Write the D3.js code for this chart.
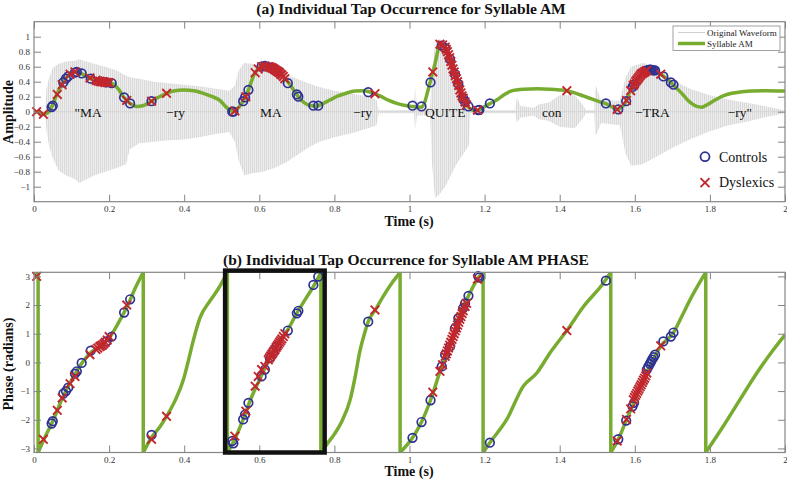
<!DOCTYPE html>
<html><head><meta charset="utf-8">
<script src="https://cdn.jsdelivr.net/npm/d3@7"></script>
<style>
body{margin:0;background:#fff;}
svg{display:block;}
text{font-family:"Liberation Serif","Times New Roman",serif;}
</style>
</head><body>
<svg id="chart" width="787" height="481"></svg>
<script>
// ---------- DATA ----------
const timeTicks = [0, 0.2, 0.4, 0.6, 0.8, 1, 1.2, 1.4, 1.6, 1.8, 2];
const ampTicks = [-1, -0.8, -0.6, -0.4, -0.2, 0, 0.2, 0.4, 0.6, 0.8, 1];
const phaseTicks = [-3, -2, -1, 0, 1, 2, 3];

const syllableLabels = ['"MA', '\u2212ry', 'MA', '\u2212ry', 'QUITE', 'con', '\u2212TRA', '\u2212ry"'];
const syllableTimes  = [0.144, 0.377, 0.631, 0.875, 1.095, 1.379, 1.647, 1.880];

// Syllable AM envelope [time, amplitude]
const amCurve = [
 [0,0],[0.012,0.0],[0.025,-0.035],[0.04,0.0],[0.047,0.06],[0.06,0.22],[0.074,0.36],[0.087,0.46],[0.1,0.51],
 [0.112,0.53],[0.125,0.51],[0.14,0.47],[0.155,0.43],[0.176,0.40],[0.2,0.385],[0.211,0.37],[0.225,0.3],[0.238,0.2],
 [0.256,0.11],[0.273,0.07],[0.29,0.08],[0.309,0.13],[0.33,0.19],[0.353,0.245],[0.375,0.28],[0.398,0.29],[0.425,0.28],
 [0.451,0.245],[0.475,0.2],[0.495,0.15],[0.51,0.07],[0.522,0.02],[0.531,0.0],[0.542,0.04],[0.553,0.11],[0.562,0.19],
 [0.571,0.29],[0.584,0.47],[0.595,0.56],[0.61,0.61],[0.624,0.6],[0.64,0.56],[0.655,0.51],[0.668,0.44],[0.682,0.36],
 [0.693,0.28],[0.704,0.2],[0.715,0.14],[0.726,0.1],[0.74,0.08],[0.753,0.076],[0.77,0.11],[0.788,0.156],[0.81,0.21],
 [0.833,0.25],[0.855,0.275],[0.877,0.28],[0.9,0.255],[0.921,0.21],[0.945,0.15],[0.966,0.11],[0.985,0.085],[1.006,0.07],
 [1.032,0.06],[1.04,0.12],[1.05,0.3],[1.058,0.45],[1.068,0.64],[1.075,0.8],[1.081,0.9],[1.088,0.89],[1.099,0.82],
 [1.108,0.7],[1.117,0.56],[1.126,0.42],[1.134,0.29],[1.143,0.18],[1.152,0.09],[1.163,0.035],[1.174,0.013],[1.185,0.025],
 [1.197,0.06],[1.215,0.11],[1.232,0.156],[1.25,0.22],[1.268,0.27],[1.285,0.29],[1.303,0.30],[1.34,0.305],[1.374,0.30],
 [1.4,0.29],[1.419,0.28],[1.44,0.25],[1.463,0.21],[1.485,0.17],[1.507,0.13],[1.521,0.11],[1.537,0.07],[1.552,0.03],
 [1.565,0.06],[1.574,0.11],[1.587,0.27],[1.597,0.36],[1.605,0.42],[1.617,0.5],[1.627,0.54],[1.64,0.56],[1.652,0.55],
 [1.662,0.52],[1.672,0.49],[1.685,0.44],[1.698,0.38],[1.712,0.31],[1.725,0.245],[1.738,0.17],[1.751,0.11],[1.765,0.07],
 [1.778,0.06],[1.795,0.1],[1.814,0.156],[1.835,0.21],[1.858,0.245],[1.885,0.265],[1.911,0.276],[1.95,0.278],[2.0,0.276]
];

// Original waveform envelope [time, upper, lower]
const waveEnvelope = [
 [0.000,0.01,-0.01],[0.030,0.02,-0.02],[0.033,0.30,-0.25],[0.040,0.45,-0.45],[0.050,0.58,-0.62],[0.065,0.64,-0.78],
 [0.085,0.67,-0.85],[0.110,0.68,-0.90],[0.120,0.70,-0.95],[0.140,0.67,-0.90],[0.160,0.64,-0.85],[0.190,0.60,-0.80],
 [0.220,0.55,-0.75],[0.245,0.48,-0.70],[0.255,0.46,-0.50],[0.280,0.44,-0.42],[0.320,0.40,-0.40],[0.360,0.38,-0.38],
 [0.400,0.36,-0.37],[0.440,0.34,-0.34],[0.480,0.31,-0.30],[0.520,0.28,-0.27],[0.535,0.35,-0.40],[0.545,0.55,-0.65],
 [0.560,0.65,-0.85],[0.580,0.64,-0.82],[0.610,0.60,-0.80],[0.640,0.56,-0.75],[0.670,0.50,-0.68],[0.700,0.44,-0.58],
 [0.730,0.38,-0.48],[0.760,0.33,-0.40],[0.800,0.28,-0.34],[0.850,0.24,-0.28],[0.890,0.20,-0.22],[0.912,0.16,-0.18],
 [0.918,0.02,-0.02],[1.012,0.02,-0.02],[1.015,0.35,-0.25],[1.020,0.05,-0.05],[1.055,0.05,-0.05],[1.060,0.55,-0.70],
 [1.068,0.90,-1.15],[1.080,0.98,-1.10],[1.095,0.85,-1.00],[1.110,0.65,-0.85],[1.125,0.45,-0.70],[1.145,0.28,-0.55],
 [1.158,0.18,-0.45],[1.162,0.02,-0.02],[1.282,0.02,-0.02],[1.286,0.20,-0.15],[1.295,0.08,-0.08],[1.330,0.05,-0.05],
 [1.345,0.10,-0.10],[1.370,0.12,-0.12],[1.400,0.22,-0.20],[1.440,0.22,-0.22],[1.460,0.10,-0.10],[1.470,0.02,-0.02],
 [1.492,0.02,-0.02],[1.495,0.36,-0.33],[1.510,0.15,-0.15],[1.560,0.15,-0.18],[1.575,0.45,-0.55],[1.590,0.60,-0.72],
 [1.620,0.65,-0.70],[1.650,0.62,-0.62],[1.700,0.42,-0.48],[1.750,0.30,-0.36],[1.800,0.22,-0.26],[1.850,0.16,-0.18],
 [1.900,0.12,-0.13],[1.950,0.07,-0.07],[1.990,0.03,-0.03],[2.000,0.01,-0.01]
];

// Syllable AM phase [time, radians]; repeated time = wrap from +pi to -pi
const phaseCurve = [
 [0,2.95],[0.011,3.1416],[0.011,-3.1416],[0.025,-2.72],[0.05,-2.05],[0.075,-1.26],[0.1,-0.62],[0.125,-0.07],[0.15,0.33],
 [0.175,0.55],[0.2,0.85],[0.215,1.15],[0.23,1.5],[0.25,2.0],[0.27,2.6],[0.291,3.1416],
 [0.291,-3.1416],[0.313,-2.62],[0.335,-2.25],[0.353,-1.88],[0.375,-1.35],[0.398,-0.6],[0.41,0.0],[0.424,0.75],
 [0.442,1.55],[0.469,2.15],[0.49,2.55],[0.515,3.1416],
 [0.515,-3.1416],[0.531,-2.78],[0.557,-1.99],[0.575,-1.35],[0.6,-0.62],[0.625,0.08],[0.65,0.7],[0.675,1.12],[0.7,1.72],
 [0.725,2.25],[0.75,2.78],[0.764,3.1416],
 [0.764,-3.1416],[0.78,-2.85],[0.8,-2.5],[0.82,-2.05],[0.842,-1.3],[0.856,-0.45],[0.868,0.4],[0.88,1.0],[0.89,1.42],
 [0.91,1.85],[0.93,2.3],[0.955,2.8],[0.975,3.1416],
 [0.975,-3.1416],[1.008,-2.63],[1.032,-2.08],[1.056,-1.32],[1.086,-0.14],[1.108,0.56],[1.13,1.54],[1.157,2.32],
 [1.185,2.98],[1.196,3.1416],
 [1.196,-3.1416],[1.214,-2.8],[1.259,-1.99],[1.303,-0.83],[1.339,-0.37],[1.374,0.33],[1.419,1.11],[1.463,1.94],
 [1.516,2.76],[1.536,3.1416],
 [1.536,-3.1416],[1.556,-2.68],[1.577,-2.03],[1.596,-1.45],[1.62,-0.7],[1.645,0.0],[1.67,0.58],[1.703,1.04],
 [1.725,1.6],[1.747,2.18],[1.782,2.99],[1.789,3.1416],
 [1.789,-3.1416],[1.836,-2.22],[1.88,-1.3],[1.925,-0.37],[1.969,0.44],[2.0,0.96]
];

// Taps [time, AM amplitude, phase]
const controlsTaps = [
 [0.047,0.06,-2.13],[0.05,0.08,-2.05],[0.078,0.39,-1.09],[0.085,0.44,-1.0],[0.091,0.47,-0.88],[0.109,0.52,-0.39],
 [0.114,0.53,-0.31],[0.127,0.51,-0.02],[0.151,0.44,0.41],[0.193,0.39,0.73],[0.207,0.38,0.9],[0.24,0.19,1.74],
 [0.256,0.11,2.2],[0.313,0.14,-2.53],
 [0.528,0.0,-2.74],[0.531,0.0,-2.82],[0.557,0.14,-1.99],[0.562,0.19,-1.82],[0.571,0.29,-1.41],[0.606,0.6,-0.49],
 [0.615,0.61,-0.25],[0.628,0.59,0.15],[0.637,0.57,0.38],[0.646,0.54,0.56],[0.676,0.38,1.11],[0.7,0.23,1.71],
 [0.704,0.2,1.8],[0.744,0.08,2.7],[0.757,0.08,2.99],
 [0.89,0.26,1.42],
 [1.008,0.08,-2.63],[1.032,0.07,-2.08],[1.056,0.39,-1.32],[1.086,0.88,-0.14],[1.095,0.85,0.27],[1.108,0.7,0.56],
 [1.121,0.5,1.19],[1.13,0.37,1.54],[1.143,0.18,1.89],[1.148,0.13,2.06],[1.157,0.07,2.32],[1.183,0.02,3.01],
 [1.186,0.025,2.96],[1.214,0.11,-2.8],
 [1.523,0.11,2.85],
 [1.556,0.03,-2.68],[1.577,0.14,-2.03],[1.594,0.33,-1.53],[1.598,0.36,-1.41],[1.632,0.55,-0.25],[1.636,0.555,-0.15],
 [1.64,0.56,-0.05],[1.643,0.56,0.02],[1.646,0.555,0.1],[1.65,0.55,0.18],[1.654,0.55,0.27],[1.676,0.47,0.73],
 [1.696,0.39,0.9],[1.703,0.36,1.04]
];
const dyslexicsTaps = [
 [0.007,0.0,3.0],[0.025,-0.035,-2.68],[0.062,0.23,-1.67],[0.075,0.36,-1.24],[0.096,0.5,-0.74],[0.109,0.53,-0.49],
 [0.149,0.45,0.27],[0.165,0.42,0.45],[0.17,0.41,0.5],[0.175,0.405,0.55],[0.178,0.4,0.58],[0.182,0.4,0.6],
 [0.186,0.395,0.65],[0.19,0.39,0.7],[0.195,0.39,0.78],[0.2,0.385,0.9],[0.247,0.15,2.0],[0.313,0.14,-2.68],
 [0.353,0.245,-1.88],
 [0.535,0.01,-2.57],[0.564,0.2,-1.7],[0.589,0.52,-0.83],[0.597,0.57,-0.49],[0.606,0.6,-0.25],[0.615,0.61,-0.14],
 [0.624,0.6,0.09],[0.627,0.6,0.16],[0.63,0.59,0.22],[0.633,0.585,0.28],[0.636,0.58,0.33],[0.639,0.57,0.4],
 [0.642,0.56,0.45],[0.645,0.55,0.52],[0.648,0.54,0.58],[0.651,0.53,0.64],[0.654,0.52,0.7],[0.657,0.5,0.76],
 [0.66,0.49,0.82],[0.664,0.47,0.9],[0.668,0.44,1.0],
 [0.908,0.24,1.83],
 [1.062,0.53,-1.04],[1.081,0.9,-0.31],[1.088,0.89,-0.08],[1.095,0.86,0.21],[1.098,0.83,0.3],[1.101,0.8,0.4],
 [1.104,0.76,0.5],[1.107,0.72,0.6],[1.11,0.67,0.7],[1.113,0.62,0.8],[1.116,0.57,0.9],[1.119,0.53,1.0],
 [1.122,0.48,1.1],[1.125,0.44,1.2],[1.128,0.4,1.3],[1.131,0.35,1.4],[1.134,0.29,1.5],[1.137,0.25,1.6],
 [1.14,0.21,1.7],[1.143,0.18,1.8],[1.148,0.13,1.95],[1.152,0.09,2.06],[1.181,0.02,2.9],
 [1.419,0.28,1.11],
 [1.553,0.03,-2.74],[1.578,0.15,-1.99],[1.589,0.28,-1.62],[1.596,0.35,-1.3],[1.599,0.37,-1.22],[1.602,0.4,-1.15],
 [1.605,0.42,-1.08],[1.608,0.44,-1.0],[1.611,0.46,-0.93],[1.614,0.48,-0.85],[1.617,0.5,-0.78],[1.62,0.51,-0.7],
 [1.623,0.52,-0.62],[1.626,0.53,-0.55],[1.629,0.54,-0.47],[1.632,0.55,-0.37],[1.669,0.5,0.58]
];
const highlightWindow = [0.509, 0.774];

// ---------- STYLE ----------
const GREEN = "#77ac30", BLUE = "#2e3192", RED = "#c1272d", AXIS = "#858585";
const FONT = "'Liberation Serif','Times New Roman',serif";
const svg = d3.select("#chart").style("font-family", FONT);
const defs = svg.append("defs");
const pat = defs.append("pattern").attr("id","wavePat").attr("patternUnits","userSpaceOnUse")
  .attr("width",2).attr("height",10);
pat.append("rect").attr("width",2).attr("height",10).attr("fill","#eeeeee");
pat.append("rect").attr("width",1).attr("height",10).attr("fill","#d9d9d9");

const x = d3.scaleLinear().domain([0,2]).range([34,785]);
const yA = d3.scaleLinear().domain([-1.2,1.2]).range([201.7,21.7]);
const yP = d3.scaleLinear().domain([-Math.PI,Math.PI]).range([452.5,272.3]);

function frame(y, ticks, name) {
  const [y0,y1] = y.range();
  const g = svg.append("g");
  defs.append("clipPath").attr("id","clip"+name).append("rect")
    .attr("x",34).attr("y",y1).attr("width",751).attr("height",y0-y1);
  const fmt = d => (d<0 ? "\u2212" : "") + Math.abs(d);
  const ax = [
    [d3.axisBottom(x).tickValues(timeTicks).tickFormat(fmt).tickSizeInner(-7).tickSizeOuter(0).tickPadding(4), `translate(0,${y0})`],
    [d3.axisTop(x).tickValues(timeTicks).tickFormat("").tickSizeInner(-7).tickSizeOuter(0), `translate(0,${y1})`],
    [d3.axisLeft(y).tickValues(ticks).tickFormat(fmt).tickSizeInner(-7).tickSizeOuter(0).tickPadding(4), `translate(34,0)`],
    [d3.axisRight(y).tickValues(ticks).tickFormat("").tickSizeInner(-7).tickSizeOuter(0), `translate(785,0)`]
  ];
  ax.forEach(([a,t]) => {
    const ag = g.append("g").attr("transform",t).call(a);
    ag.attr("font-family", null);
    ag.select(".domain").remove();
    ag.selectAll("line").attr("stroke",AXIS);
    ag.selectAll("text").attr("fill","#333").style("font-size","9px").style("font-family",FONT);
  });
  g.append("rect").attr("x",34).attr("y",y1).attr("width",751).attr("height",y0-y1)
    .attr("fill","none").attr("stroke",AXIS).attr("stroke-width",1.2);
  return g;
}

// ---------- PANEL A ----------
const gA = svg.append("g");
const clipA = () => gA.append("g").attr("clip-path","url(#clipA)");
const wave = clipA();
wave.append("path").datum(waveEnvelope)
  .attr("d", d3.area().x(d=>x(d[0])).y0(d=>yA(d[2])).y1(d=>yA(d[1])))
  .attr("fill","url(#wavePat)");
wave.append("line").attr("x1",x(0)).attr("x2",x(2)).attr("y1",yA(0)).attr("y2",yA(0))
  .attr("stroke","#d6d6d6").attr("stroke-width",1);

gA.selectAll("text.syl").data(syllableLabels).join("text")
  .attr("x",(d,i)=>x(syllableTimes[i])).attr("y",yA(0)+5.5)
  .attr("text-anchor","middle").style("font-size","13.5px").attr("fill","#111").text(d=>d);

clipA().append("path").datum(amCurve)
  .attr("d", d3.line().x(d=>x(d[0])).y(d=>yA(d[1])).curve(d3.curveMonotoneX))
  .attr("fill","none").attr("stroke",GREEN).attr("stroke-width",3.5).attr("stroke-linejoin","round");

function circles(g, data, yf) {
  g.selectAll(null).data(data).join("circle")
    .attr("cx",d=>x(d[0])).attr("cy",yf).attr("r",4.3)
    .attr("fill","none").attr("stroke",BLUE).attr("stroke-width",1.7);
}
function crosses(g, data, yf) {
  const s = 4.3;
  g.selectAll(null).data(data).join("path")
    .attr("d",d=>{const cx=x(d[0]), cy=yf(d);
      return `M${cx-s},${cy-s}L${cx+s},${cy+s}M${cx-s},${cy+s}L${cx+s},${cy-s}`;})
    .attr("stroke",RED).attr("stroke-width",1.9).attr("fill","none");
}
circles(gA, controlsTaps, d=>yA(d[1]));
crosses(gA, dyslexicsTaps, d=>yA(d[1]));

frame(yA, ampTicks, "A");

// legend box
const lg = svg.append("g");
lg.append("rect").attr("x",673).attr("y",26).attr("width",107).attr("height",24.5)
  .attr("fill","#fff").attr("stroke","#8a8a8a").attr("stroke-width",0.8);
lg.append("line").attr("x1",678).attr("x2",705).attr("y1",32.5).attr("y2",32.5).attr("stroke","#d0d0d0").attr("stroke-width",1);
lg.append("line").attr("x1",678).attr("x2",705).attr("y1",43.5).attr("y2",43.5).attr("stroke",GREEN).attr("stroke-width",3.5);
lg.append("text").attr("x",707).attr("y",35.7).style("font-size","9px").attr("fill","#222").text("Original Waveform");
lg.append("text").attr("x",707).attr("y",46.7).style("font-size","9px").attr("fill","#222").text("Syllable AM");

// group legend
svg.append("circle").attr("cx",705).attr("cy",156.7).attr("r",4.5).attr("fill","none").attr("stroke",BLUE).attr("stroke-width",1.8);
svg.append("path").attr("d","M700.5,178.2L709.5,187.2M700.5,187.2L709.5,178.2").attr("stroke",RED).attr("stroke-width",1.9);
svg.append("text").attr("x",719).attr("y",161.5).style("font-size","14px").attr("fill","#111").text("Controls");
svg.append("text").attr("x",719).attr("y",187).style("font-size","14px").attr("fill","#111").text("Dyslexics");

// ---------- PANEL B ----------
const gB = svg.append("g");
const clipB = gB.append("g").attr("clip-path","url(#clipB)");
const runs = []; let cur = [phaseCurve[0]];
for (let i=1;i<phaseCurve.length;i++){
  const p = phaseCurve[i], q = phaseCurve[i-1];
  if (p[0]===q[0]) { runs.push(cur); runs.push([q,p]); cur=[p]; } else cur.push(p);
}
runs.push(cur);
runs.forEach(r=>{
  const vertical = r.length===2 && r[0][0]===r[1][0];
  clipB.append("path").datum(r)
    .attr("d", d3.line().x(d=>x(d[0])).y(d=>yP(d[1])).curve(vertical?d3.curveLinear:d3.curveMonotoneX))
    .attr("fill","none").attr("stroke",GREEN).attr("stroke-width",3.5).attr("stroke-linecap","butt");
});
circles(gB, controlsTaps, d=>yP(d[2]));
crosses(gB, dyslexicsTaps, d=>yP(d[2]));
frame(yP, phaseTicks, "B");

svg.append("rect").attr("x",x(highlightWindow[0])).attr("y",yP(Math.PI)-1.7)
  .attr("width",x(highlightWindow[1])-x(highlightWindow[0])).attr("height",yP(-Math.PI)-yP(Math.PI)+1.7)
  .attr("fill","none").attr("stroke","#111").attr("stroke-width",4.5);

// ---------- TITLES / LABELS ----------
const bold = (t, xx, yy, size, rot) => {
  const e = svg.append("text").attr("text-anchor","middle").style("font-size",size+"px")
    .style("font-weight","bold").attr("fill","#111").text(t);
  if (rot) e.attr("transform",`translate(${xx},${yy}) rotate(-90)`); else e.attr("x",xx).attr("y",yy);
};
bold("(a) Individual Tap Occurrence for Syllable AM", 411, 13.5, 15.5);
bold("Time (s)", 409, 225.5, 14);
bold("Amplitude", 13, 112, 14, true);
bold("(b) Individual Tap Occurrence for Syllable AM PHASE", 406, 265, 15.5);
bold("Time (s)", 409, 476, 14);
bold("Phase (radians)", 13, 364, 14, true);
</script>
</body></html>
